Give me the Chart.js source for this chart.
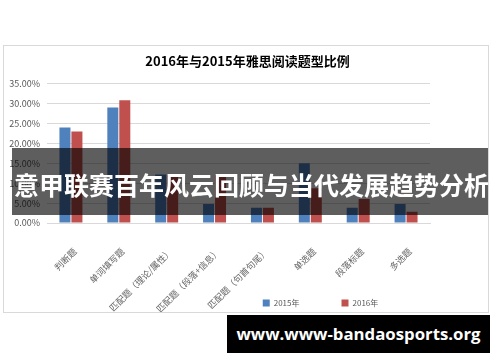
<!DOCTYPE html>
<html>
<head>
<meta charset="utf-8">
<script src="https://cdn.jsdelivr.net/npm/chart.js@4"></script>
<style>
  body { margin: 0; background: #fff; }
  #wrap { position: relative; width: 500px; height: 362px; overflow: hidden; }
  #banner {
    position: absolute; left: 12px; top: 148px; width: 476px; height: 67px;
    background: rgba(0, 0, 0, 0.63); color: #fff;
    font: bold 25px "Noto Sans CJK SC", sans-serif;
    line-height: 73px; white-space: nowrap; text-indent: 2px;
  }
  #mark {
    position: absolute; left: 227px; top: 315px; width: 263px; height: 38px;
    background: #000; color: #fff; text-align: center;
    font: bold 16.8px "Open Sans", sans-serif; line-height: 38px;
  }
</style>
</head>
<body>
<div id="wrap">
  <canvas id="chart" width="500" height="362"></canvas>
  <div id="banner">意甲联赛百年风云回顾与当代发展趋势分析</div>
  <div id="mark">www.www-bandaosports.org</div>
</div>
<script>
// question types
const categories = [
  "判断题",
  "单词填写题",
  "匹配题（理论/属性）",
  "匹配题（段落+信息）",
  "匹配题（句首句尾）",
  "单选题",
  "段落标题",
  "多选题",
];
// share of each type, in percent
const share2015 = [24, 29, 12.2, 4.8, 3.8, 15, 3.8, 4.8];
const share2016 = [23, 30.8, 12, 12, 3.8, 8.7, 6, 2.8];
const yTicks = [0, 5, 10, 15, 20, 25, 30, 35];

Chart.defaults.font.family = "'Noto Sans CJK SC', sans-serif";
Chart.defaults.color = "#595959";

// white card with a thin grey border behind the chart
const frame = {
  id: "frame",
  beforeDraw(chart) {
    const c = chart.ctx;
    c.save();
    c.fillStyle = "#fff";
    c.fillRect(0, 0, chart.width, chart.height);
    c.strokeStyle = "#d9d9d9";
    c.lineWidth = 1;
    c.strokeRect(3.5, 45.5, 485, 267);
    c.restore();
  },
};

// title and legend sit off-centre in the original,
// and the slanted category labels need room below the axis box
const nudge = {
  id: "nudge",
  afterLayout(chart) {
    chart.titleBlock.left += 31;
    chart.titleBlock.right += 31;
    chart.legend.left += 104;
    chart.legend.right += 104;
    chart.scales.x.bottom = 312;
  },
};

const ctx = document.getElementById("chart").getContext("2d");
const chart = new Chart(ctx, {
  type: "bar",
  data: {
    labels: categories,
    datasets: [
      {
        label: "2015年",
        data: share2015,
        backgroundColor: "#4f81bd",
        categoryPercentage: 0.5,
        barPercentage: 0.92,
      },
      {
        label: "2016年",
        data: share2016,
        backgroundColor: "#c0504d",
        categoryPercentage: 0.5,
        barPercentage: 0.92,
      },
    ],
  },
  options: {
    responsive: false,
    animation: false,
    layout: { padding: { left: 3, right: 70, top: 45, bottom: 45 } },
    plugins: {
      title: {
        display: true,
        text: "2016年与2015年雅思阅读题型比例",
        color: "#000",
        font: { size: 13, weight: "bold" },
        padding: { top: 8, bottom: 15 },
      },
      legend: {
        position: "bottom",
        labels: {
          boxWidth: 7,
          boxHeight: 7,
          padding: 42,
          font: { size: 8 },
        },
      },
      tooltip: { enabled: false },
    },
    scales: {
      x: {
        grid: { display: false },
        border: { color: "#d9d9d9" },
        ticks: {
          minRotation: 45,
          maxRotation: 45,
          padding: 15,
          labelOffset: 4,
          color: "#666",
          font: { size: 9 },
        },
        afterFit(scale) {
          scale.height = 34;
        },
      },
      y: {
        min: 0,
        max: 35,
        afterBuildTicks(scale) {
          scale.ticks = yTicks.map((v) => ({ value: v }));
        },
        grid: { color: "#d9d9d9", drawTicks: false },
        border: { display: false },
        ticks: {
          padding: 7,
          font: { size: 9 },
          callback: (v) => v.toFixed(2) + "%",
        },
        afterFit(scale) {
          scale.width = 44;
        },
      },
    },
  },
  plugins: [frame, nudge],
});
</script>
</body>
</html>
